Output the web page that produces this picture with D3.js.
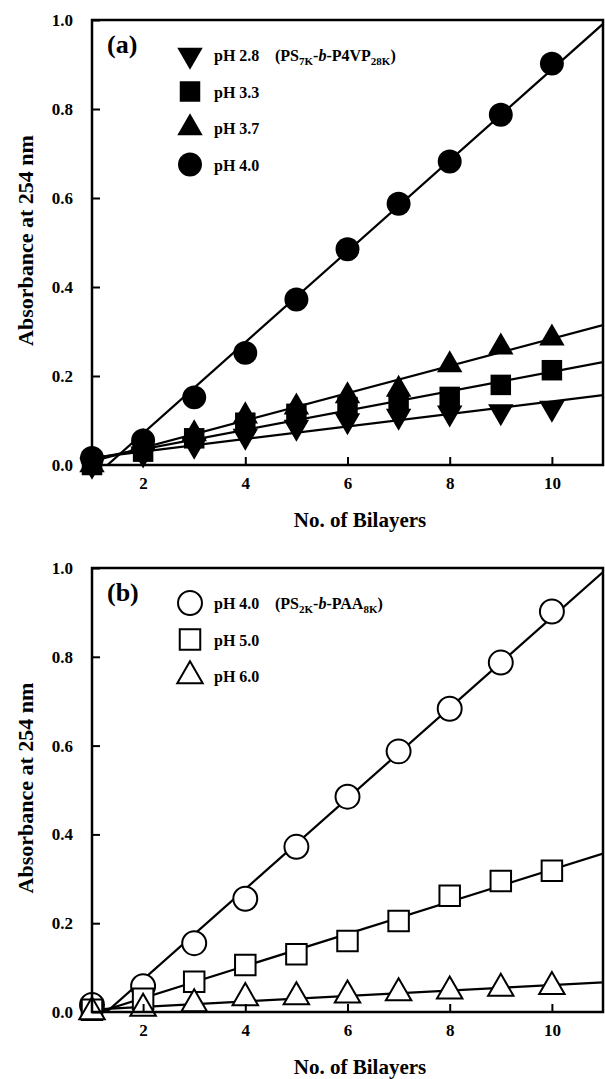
<!DOCTYPE html>
<html>
<head>
<meta charset="utf-8">
<script src="https://cdn.jsdelivr.net/npm/d3@7"></script>
<style>
  body { margin: 0; background: #fff; }
  text { font-family: "Liberation Serif", "Times New Roman", serif; font-weight: bold; }
</style>
</head>
<body>
<div id="chart"></div>
<script>
// bilayer number (x) for every series
const bilayers = [1, 2, 3, 4, 5, 6, 7, 8, 9, 10];

// panel (a) PS7K-b-P4VP28K
const aPH28 = [0.0, 0.025, 0.045, 0.065, 0.085, 0.100, 0.110, 0.117, 0.120, 0.128];
const aPH33 = [0.0, 0.030, 0.060, 0.095, 0.115, 0.130, 0.140, 0.153, 0.180, 0.213];
const aPH37 = [0.0, 0.050, 0.070, 0.110, 0.130, 0.155, 0.170, 0.225, 0.265, 0.285];
const aPH40 = [0.016, 0.055, 0.152, 0.252, 0.372, 0.485, 0.587, 0.682, 0.787, 0.902];

// panel (b) PS2K-b-PAA8K
const bPH40 = [0.016, 0.058, 0.155, 0.255, 0.372, 0.485, 0.587, 0.683, 0.787, 0.902];
const bPH50 = [0.005, 0.030, 0.068, 0.106, 0.130, 0.160, 0.205, 0.262, 0.295, 0.318];
const bPH60 = [0.0, 0.008, 0.018, 0.032, 0.034, 0.038, 0.043, 0.047, 0.053, 0.057];

const xTicks = [2, 4, 6, 8, 10];
const yTicks = [0.0, 0.2, 0.4, 0.6, 0.8, 1.0];

const W = 605, H = 1079;
const svg = d3.select("#chart").append("svg")
  .attr("width", W)
  .attr("height", H);

// least squares line through a series
function fit(ys) {
  const mx = d3.mean(bilayers), my = d3.mean(ys);
  let sxy = 0, sxx = 0;
  bilayers.forEach(function (x, i) {
    sxy += (x - mx) * (ys[i] - my);
    sxx += (x - mx) * (x - mx);
  });
  const b = sxy / sxx;
  return function (x) { return my + b * (x - mx); };
}

function symbolPath(kind) {
  if (kind === "circle") return d3.symbol(d3.symbolCircle, 450)();
  if (kind === "square") return d3.symbol(d3.symbolSquare, 420)();
  return d3.symbol(d3.symbolTriangle, 280)();
}

function drawPanel(opts) {
  const left = 92, right = 603, top = opts.top, bottom = opts.bottom;

  const x = d3.scaleLinear().domain([1, 11]).range([left, right]);
  const y = d3.scaleLinear().domain([0, 1]).range([bottom, top]);

  const g = svg.append("g");

  g.append("clipPath").attr("id", "clip" + opts.id)
    .append("rect")
    .attr("x", left).attr("y", top)
    .attr("width", right - left).attr("height", bottom - top);

  // fitted lines
  const line = d3.line().x(function (d) { return x(d[0]); }).y(function (d) { return y(d[1]); });
  opts.series.forEach(function (s) {
    const f = fit(s.values);
    g.append("path")
      .datum([[1, f(1)], [11, f(11)]])
      .attr("clip-path", "url(#clip" + opts.id + ")")
      .attr("d", line)
      .attr("fill", "none")
      .attr("stroke", "#000")
      .attr("stroke-width", 2.2);
  });

  // markers
  opts.series.forEach(function (s) {
    g.selectAll(null)
      .data(s.values)
      .enter().append("path")
      .attr("d", symbolPath(s.shape))
      .attr("transform", function (d, i) {
        return "translate(" + x(bilayers[i]) + "," + y(d) + ")" + (s.down ? " rotate(180)" : "");
      })
      .attr("fill", opts.filled ? "#000" : "#fff")
      .attr("stroke", "#000")
      .attr("stroke-width", opts.filled ? 0 : 2);
  });

  // axes
  const yAxis = g.append("g")
    .attr("transform", "translate(" + left + ",0)")
    .call(d3.axisLeft(y).tickValues(yTicks).tickFormat(d3.format(".1f"))
      .tickSizeInner(-8).tickSizeOuter(0).tickPadding(19));
  const xAxis = g.append("g")
    .attr("transform", "translate(0," + bottom + ")")
    .call(d3.axisBottom(x).tickValues(xTicks)
      .tickSizeInner(-8).tickSizeOuter(0).tickPadding(12));
  [xAxis, yAxis].forEach(function (a) {
    a.select(".domain").remove();
    a.selectAll("line").attr("stroke", "#000").attr("stroke-width", 2);
    a.selectAll("text")
      .attr("fill", "#000")
      .style("font-size", "17px")
      .style("font-family", "'Liberation Serif', 'Times New Roman', serif")
      .style("font-weight", "bold");
  });

  // frame
  g.append("rect")
    .attr("x", left).attr("y", top)
    .attr("width", right - left).attr("height", bottom - top)
    .attr("fill", "none")
    .attr("stroke", "#000")
    .attr("stroke-width", 2.5);

  // panel label
  g.append("text")
    .attr("x", 107).attr("y", top + 33)
    .style("font-size", "26px")
    .text(opts.label);

  // legend
  opts.series.forEach(function (s, i) {
    const ly = top + 35 + i * 36.5;
    g.append("path")
      .attr("d", symbolPath(s.shape))
      .attr("transform", "translate(190," + ly + ")" + (s.down ? " rotate(180)" : ""))
      .attr("fill", opts.filled ? "#000" : "#fff")
      .attr("stroke", "#000")
      .attr("stroke-width", opts.filled ? 0 : 2);
    g.append("text")
      .attr("x", 214).attr("y", ly + 6)
      .style("font-size", "16px")
      .text(s.name);
  });

  // polymer name with subscripts
  const p = g.append("text")
    .attr("x", 275).attr("y", top + 41)
    .style("font-size", "16px");
  opts.polymer.forEach(function (part) {
    const t = p.append("tspan").text(part.t);
    if (part.sub) t.style("font-size", "11px").attr("dy", 4);
    if (part.up) t.attr("dy", -4);
    if (part.it) t.style("font-style", "italic");
  });

  // axis titles
  g.append("text")
    .attr("transform", "translate(33," + ((top + bottom) / 2 - 2) + ") rotate(-90)")
    .attr("text-anchor", "middle")
    .style("font-size", "22px")
    .text("Absorbance at 254 nm");
  g.append("text")
    .attr("x", 360).attr("y", bottom + 62)
    .attr("text-anchor", "middle")
    .style("font-size", "21px")
    .text("No. of Bilayers");
}

drawPanel({
  id: "a", top: 20, bottom: 465, label: "(a)", filled: true,
  series: [
    { name: "pH 2.8", values: aPH28, shape: "triangle", down: true },
    { name: "pH 3.3", values: aPH33, shape: "square" },
    { name: "pH 3.7", values: aPH37, shape: "triangle" },
    { name: "pH 4.0", values: aPH40, shape: "circle" }
  ],
  polymer: [
    { t: "(PS" }, { t: "7K", sub: true }, { t: "-", up: true }, { t: "b", it: true },
    { t: "-P4VP" }, { t: "28K", sub: true }, { t: ")", up: true }
  ]
});

drawPanel({
  id: "b", top: 568, bottom: 1012, label: "(b)", filled: false,
  series: [
    { name: "pH 4.0", values: bPH40, shape: "circle" },
    { name: "pH 5.0", values: bPH50, shape: "square" },
    { name: "pH 6.0", values: bPH60, shape: "triangle" }
  ],
  polymer: [
    { t: "(PS" }, { t: "2K", sub: true }, { t: "-", up: true }, { t: "b", it: true },
    { t: "-PAA" }, { t: "8K", sub: true }, { t: ")", up: true }
  ]
});
</script>
</body>
</html>
